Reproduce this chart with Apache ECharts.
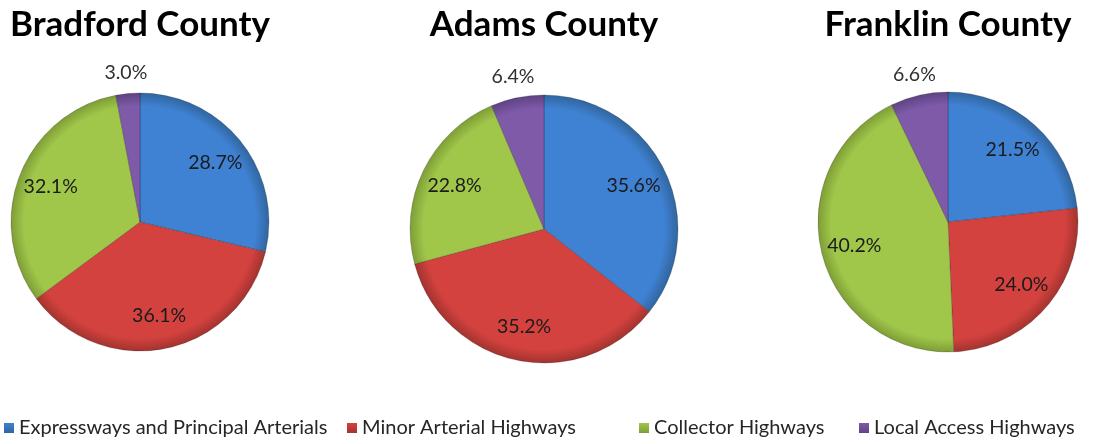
<!DOCTYPE html>
<html>
<head>
<meta charset="utf-8">
<script src="https://cdn.jsdelivr.net/npm/echarts@6/dist/echarts.min.js"></script>
<style>
  html, body { margin: 0; padding: 0; background: #fff; }
  #main { width: 1096px; height: 444px; }
</style>
</head>
<body>
<div id="main"></div>
<script>
// road categories, same order in every pie
const categories = ['Expressways and Principal Arterials', 'Minor Arterial Highways', 'Collector Highways', 'Local Access Highways'];
const counties = ['Bradford County', 'Adams County', 'Franklin County'];

// share of miles per category (%)
const bradfordShares = [28.7, 36.1, 32.1, 3.0];
const adamsShares = [35.6, 35.2, 22.8, 6.4];
const franklinShares = [21.5, 24.0, 40.2, 6.6];

const countyShares = [bradfordShares, adamsShares, franklinShares];

// slice colours: base + darker rim
const baseColors = ['#3f81d2', '#d3423e', '#a0c64a', '#7e5aa9'];
const rimColors = ['#31669f', '#a3332f', '#7e9e36', '#5f4383'];

// pie placement
const pieCenters = [[140, 222], [544, 229], [948, 222]];
const pieRadius = [129, 134, 130];
const legendLefts = [4, 347, 639, 859];

const fontFamily = 'Lato, "Open Sans", sans-serif';

const fmt = v => v.toFixed(1) + '%';

const chart = echarts.init(document.getElementById('main'));

const series = [];
countyShares.forEach((shares, p) => {
    const [cx, cy] = pieCenters[p];
    const r = pieRadius[p];

    // the filled pie
    series.push({
        type: 'pie',
        center: [cx, cy],
        radius: r,
        startAngle: 90,
        clockwise: true,
        silent: true,
        label: { show: false },
        labelLine: { show: false },
        data: shares.map((v, i) => ({
            name: categories[i],
            value: v,
            itemStyle: {
                color: {
                    type: 'radial', x: cx, y: cy, r: r, global: true,
                    colorStops: [
                        { offset: 0, color: baseColors[i] },
                        { offset: 0.9, color: baseColors[i] },
                        { offset: 1, color: rimColors[i] }
                    ]
                },
                borderColor: 'rgba(0,0,0,0.2)',
                borderWidth: 1
            }
        }))
    });

    // ring carrying the inside labels of the big slices
    series.push({
        type: 'pie',
        center: [cx, cy],
        radius: [r * 0.44, r],
        startAngle: 90,
        silent: true,
        itemStyle: { color: 'rgba(0,0,0,0)' },
        label: {
            show: true,
            position: 'inside',
            fontFamily: fontFamily,
            fontSize: 19.5,
            color: '#1b1b1b',
            formatter: pr => pr.value >= 10 ? fmt(pr.value) : ''
        },
        labelLine: { show: false },
        data: shares.map((v, i) => ({ name: categories[i], value: v }))
    });

    // outer ring for the labels of the small slices
    series.push({
        type: 'pie',
        center: [cx, cy],
        radius: [r + 2, r + 34],
        startAngle: 90,
        silent: true,
        itemStyle: { color: 'rgba(0,0,0,0)' },
        label: {
            show: true,
            position: 'inside',
            fontFamily: fontFamily,
            fontSize: 19.5,
            color: '#303030',
            formatter: pr => pr.value < 10 ? fmt(pr.value) : ''
        },
        labelLine: { show: false },
        data: shares.map((v, i) => ({ name: categories[i], value: v }))
    });
});

const option = {
    animation: false,
    backgroundColor: '#ffffff',
    title: counties.map((c, p) => ({
        text: c,
        left: pieCenters[p][0],
        top: 7,
        textAlign: 'center',
        padding: 0,
        textStyle: { fontFamily: fontFamily, fontWeight: 'bold', fontSize: 35, color: '#000' }
    })),
    legend: categories.map((c, i) => ({
        data: [{
            name: c,
            itemStyle: {
                color: {
                    type: 'linear', x: 0, y: 0, x2: 0, y2: 1,
                    colorStops: [
                        { offset: 0, color: baseColors[i] },
                        { offset: 1, color: rimColors[i] }
                    ]
                },
                borderWidth: 0
            }
        }],
        left: legendLefts[i],
        top: 418,
        padding: 0,
        icon: 'rect',
        itemWidth: 10,
        itemHeight: 10,
        selectedMode: false,
        textStyle: { fontFamily: fontFamily, fontSize: 20, color: '#262626', lineHeight: 20 }
    })),
    series: series
};

chart.setOption(option);
</script>
</body>
</html>
